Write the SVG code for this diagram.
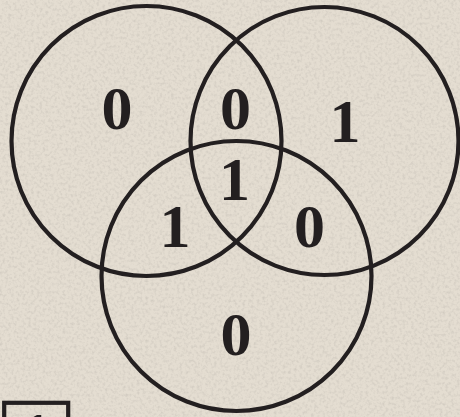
<svg xmlns="http://www.w3.org/2000/svg" width="460" height="417" viewBox="0 0 460 417">
<defs>
<filter id="tex" x="0" y="0" width="100%" height="100%">
<feTurbulence type="fractalNoise" baseFrequency="0.35" numOctaves="2" seed="3" result="n"/>
<feColorMatrix in="n" type="matrix" values="0 0 0 0 0.45  0 0 0 0 0.42  0 0 0 0 0.38  0 0 0 -2.2 1.25" result="s"/>
<feComposite in="s" in2="SourceGraphic" operator="in"/>
</filter>
</defs>
<style>
.c{fill:none;stroke:#231f20;stroke-width:4.2}
.n{font-family:"Liberation Serif","Times New Roman",serif;font-weight:bold;font-size:62px;fill:#231f20;text-anchor:middle}
</style>
<rect width="460" height="417" fill="#e4ddd1"/>
<rect width="460" height="417" fill="#e4ddd1" filter="url(#tex)" opacity="0.35"/>
<g id="circles">
<g id="circle-a"><circle class="c" cx="146.5" cy="141" r="135"/></g>
<g id="circle-b"><circle class="c" cx="324.5" cy="141" r="134"/></g>
<g id="circle-c"><circle class="c" cx="236.5" cy="276" r="135"/></g>
</g>
<g id="labels">
<text class="n" x="117" y="129">0</text>
<text class="n" x="235.5" y="129">0</text>
<text class="n" x="345" y="141.5">1</text>
<text class="n" x="234.5" y="200">1</text>
<text class="n" x="175" y="246.5">1</text>
<text class="n" x="309.5" y="247">0</text>
<text class="n" x="236" y="355">0</text>
</g>
<g id="tag">
<rect x="4.2" y="402.8" width="64" height="40" fill="none" stroke="#231f20" stroke-width="4.2"/>
<text class="n" x="36" y="455">1</text>
</g>
</svg>
